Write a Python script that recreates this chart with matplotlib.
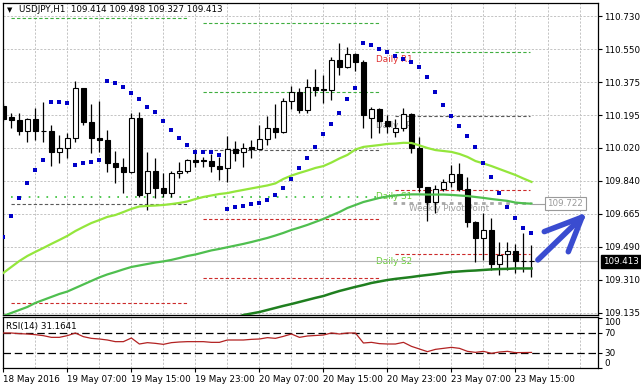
import numpy as np
import matplotlib.pyplot as plt

# USDJPY H1, bars from 18 May 23:00 to 23 May 17:00 (index 0..66)
opens = [110.247, 110.188, 110.174, 110.114, 110.175, 110.114, 110.115, 110.001, 110.020, 110.073,
         110.341, 110.162, 110.073, 110.064, 109.942, 109.921, 109.894, 110.181, 109.778, 109.898,
         109.808, 109.781, 109.885, 109.898, 109.957, 109.955, 109.950, 109.924, 109.912, 110.014,
         109.998, 110.024, 110.016, 110.068, 110.127, 110.105, 110.271, 110.323, 110.225, 110.347,
         110.338, 110.334, 110.494, 110.455, 110.526, 110.481, 110.181, 110.229, 110.168, 110.105,
         110.127, 110.202, 110.023, 109.810, 109.730, 109.799, 109.837, 109.881, 109.799, 109.625,
         109.536, 109.581, 109.397, 109.452, 109.470, 109.416, 109.414]
highs = [110.263, 110.209, 110.209, 110.184, 110.236, 110.270, 110.145, 110.091, 110.103, 110.381,
         110.343, 110.257, 110.274, 110.118, 110.005, 109.966, 110.211, 110.214, 110.001, 109.969,
         109.888, 109.898, 109.948, 109.960, 110.014, 109.974, 109.987, 109.974, 110.086, 110.059,
         110.046, 110.064, 110.145, 110.193, 110.257, 110.288, 110.354, 110.342, 110.390, 110.444,
         110.413, 110.511, 110.583, 110.562, 110.533, 110.494, 110.243, 110.234, 110.198, 110.177,
         110.234, 110.209, 110.079, 109.812, 109.822, 109.853, 109.930, 109.939, 109.864, 109.631,
         109.670, 109.644, 109.518, 109.518, 109.504, 109.566, 109.498]
lows = [110.166, 110.129, 110.091, 110.055, 110.064, 110.055, 109.924, 109.941, 109.966, 110.055,
        110.145, 109.996, 110.001, 109.894, 109.835, 109.778, 109.885, 109.760, 109.688, 109.751,
        109.760, 109.760, 109.862, 109.885, 109.921, 109.917, 109.894, 109.849, 109.840, 109.951,
        109.917, 109.969, 110.014, 110.037, 110.076, 110.100, 110.231, 110.211, 110.211, 110.300,
        110.264, 110.279, 110.413, 110.449, 110.435, 110.127, 110.073, 110.100, 110.100, 110.082,
        110.114, 109.993, 109.786, 109.631, 109.670, 109.792, 109.810, 109.792, 109.599, 109.407,
        109.420, 109.366, 109.339, 109.366, 109.351, 109.357, 109.327]
closes = [110.177, 110.174, 110.114, 110.175, 110.114, 110.113, 110.001, 110.020, 110.073, 110.342,
          110.162, 110.073, 110.064, 109.942, 109.921, 109.894, 110.181, 109.769, 109.898, 109.808,
          109.781, 109.885, 109.898, 109.957, 109.948, 109.950, 109.924, 109.910, 110.014, 109.996,
          110.020, 110.016, 110.068, 110.127, 110.105, 110.271, 110.323, 110.225, 110.347, 110.333,
          110.334, 110.494, 110.455, 110.526, 110.481, 110.198, 110.229, 110.168, 110.139, 110.127,
          110.202, 110.023, 109.810, 109.730, 109.799, 109.840, 109.881, 109.799, 109.625, 109.536,
          109.581, 109.397, 109.446, 109.470, 109.416, 109.414, 109.413]

# parabolic SAR
sar = [109.542, 109.656, 109.751, 109.832, 109.903, 109.954, 110.267, 110.267, 110.261, 109.930,
       109.939, 109.946, 109.957, 110.381, 110.370, 110.347, 110.317, 110.284, 110.243, 110.213,
       110.166, 110.118, 110.076, 110.036, 110.002, 109.999, 109.999, 109.986, 109.692, 109.703,
       109.710, 109.719, 109.724, 109.740, 109.769, 109.806, 109.853, 109.914, 109.969, 110.027,
       110.096, 110.150, 110.211, 110.284, 110.345, 110.585, 110.573, 110.553, 110.537, 110.516,
       110.497, 110.483, 110.455, 110.402, 110.322, 110.252, 110.193, 110.139, 110.086, 110.028,
       109.939, 109.865, 109.779, 109.704, 109.644, 109.590, 109.566]

# moving averages
ma_fast = [109.350, 109.382, 109.414, 109.441, 109.463, 109.484, 109.506, 109.527, 109.549, 109.575,
           109.597, 109.618, 109.634, 109.651, 109.661, 109.677, 109.694, 109.707, 109.710, 109.712,
           109.715, 109.720, 109.726, 109.734, 109.747, 109.758, 109.766, 109.774, 109.779, 109.788,
           109.796, 109.804, 109.812, 109.820, 109.831, 109.855, 109.873, 109.887, 109.900, 109.914,
           109.924, 109.943, 109.965, 109.984, 110.013, 110.027, 110.032, 110.037, 110.043, 110.045,
           110.049, 110.048, 110.035, 110.021, 110.010, 110.005, 110.000, 109.989, 109.973, 109.951,
           109.938, 109.924, 109.908, 109.892, 109.876, 109.857, 109.839]
ma_mid = [109.119, 109.135, 109.151, 109.167, 109.189, 109.205, 109.221, 109.237, 109.250, 109.269,
          109.288, 109.307, 109.326, 109.342, 109.355, 109.369, 109.382, 109.390, 109.398, 109.406,
          109.412, 109.420, 109.430, 109.441, 109.449, 109.460, 109.471, 109.479, 109.488, 109.497,
          109.506, 109.516, 109.527, 109.538, 109.551, 109.565, 109.581, 109.594, 109.608, 109.624,
          109.640, 109.659, 109.677, 109.699, 109.715, 109.731, 109.742, 109.753, 109.761, 109.766,
          109.770, 109.772, 109.772, 109.771, 109.771, 109.771, 109.769, 109.766, 109.763, 109.758,
          109.753, 109.747, 109.742, 109.737, 109.728, 109.724, 109.722]
ma_slow_start = 29
ma_slow = [109.108, 109.124, 109.132, 109.140, 109.151, 109.162, 109.173, 109.183, 109.194, 109.205,
           109.216, 109.226, 109.240, 109.253, 109.264, 109.275, 109.285, 109.296, 109.304, 109.312,
           109.318, 109.323, 109.328, 109.334, 109.339, 109.344, 109.350, 109.355, 109.358, 109.361,
           109.363, 109.366, 109.369, 109.371, 109.372, 109.374, 109.374, 109.374]

rsi = [70, 70, 68.7, 68, 66.7, 64.7, 61.3, 61.3, 64.7, 70, 62.7, 59.3, 58, 56, 52.7, 52.7, 60, 48,
       50.7, 49.3, 47.3, 50.7, 52, 52.7, 52.7, 52.7, 51.3, 51.3, 56, 56, 56, 57.3, 58, 60.7, 59.3,
       63.3, 68, 61.3, 64, 65, 66, 70, 68, 70, 70, 50, 51.3, 48.7, 48, 48, 51.3, 43.3, 38, 32.7,
       37.3, 39.3, 41.3, 39.3, 33.3, 31.3, 33.3, 29.3, 32, 33.3, 30.7, 30.9, 31.16]

# daily pivot levels: (price, day) ; day spans in bar index
day_spans = [(0.9, 23), (25, 47.1), (49, 65.8)]
res_lines = [(110.718, 0), (110.691, 1), (110.320, 1), (110.535, 2)]
pp_lines = [(109.719, 0), (110.010, 1), (110.192, 2)]
sup_lines = [(109.187, 0), (109.638, 1), (109.321, 1), (109.793, 2), (109.449, 2)]
weekly_prev = 109.760
weekly_pp = 109.727

ytick_labels = ['110.730', '110.550', '110.375', '110.195', '110.020',
                '109.840', '109.665', '109.490', '109.310', '109.135']
time_labels = ['18 May 2016', '19 May 07:00', '19 May 15:00', '19 May 23:00', '20 May 07:00',
               '20 May 15:00', '20 May 23:00', '23 May 07:00', '23 May 15:00']
last_price = 109.413

plt.rcParams['font.family'] = 'DejaVu Sans'
fs = 6.3
W, H = 641, 390


def box(x0, y0, x1, y1):
    return [x0 / W, 1 - y1 / H, (x1 - x0) / W, (y1 - y0) / H]


fig = plt.figure(figsize=(6.41, 3.90), dpi=100)
ax = fig.add_axes(box(3, 3, 598, 315))
ar = fig.add_axes(box(3, 317, 598, 368))

x = np.arange(len(closes))
o, h, l, c = map(np.array, (opens, highs, lows, closes))
XMIN, XMAX = -0.04, 74.31
grid_kw = dict(color='#c4c4c4', lw=0.7, ls=(0, (2.2, 1.6)))

# ---- main panel
ax.set_xlim(XMIN, XMAX)
ax.set_ylim(109.124, 110.800)
ax.set_yticks(np.linspace(110.730, 109.135, 10))
ax.set_yticklabels(ytick_labels)
ax.yaxis.tick_right()
ax.tick_params(axis='y', direction='out', length=3, width=0.8, pad=1.5, labelsize=fs)
ax.set_xticks(np.arange(4, 75, 4))
ax.tick_params(axis='x', length=0, labelbottom=False)
ax.grid(True, **grid_kw)
ax.set_axisbelow(True)

for p, d in res_lines:
    ax.hlines(p, *day_spans[d], colors='#3fae3f', lw=0.8, linestyles=(0, (3, 2)), zorder=1.5)
for p, d in pp_lines:
    ax.hlines(p, *day_spans[d], colors='#5a5a5a', lw=0.8, linestyles=(0, (3, 2)), zorder=1.5)
for p, d in sup_lines:
    ax.hlines(p, *day_spans[d], colors='#cc2a2a', lw=0.8, linestyles=(0, (3, 2)), zorder=1.5)
ax.hlines(weekly_prev, 0.9, 48.7, colors='#22bb22', lw=1.1, linestyles=(0, (1.1, 4.7)), zorder=1.5)
ax.hlines(weekly_pp, 48.7, 66, colors='#a8a8a8', lw=2.0, linestyles=(0, (1.3, 1.6)), zorder=1.5)

ax.text(46.6, 110.499, 'Daily R1', color='#e03030', fontsize=fs, va='center', zorder=1.6)
ax.text(46.6, 110.141, 'Daily PP', color='#8a8a8a', fontsize=fs, va='center', zorder=1.6)
ax.text(46.6, 109.759, 'Daily S1', color='#66cc33', fontsize=fs, va='center', zorder=1.6)
ax.text(46.6, 109.414, 'Daily S2', color='#66cc33', fontsize=fs, va='center', zorder=1.6)
ax.text(50.7, 109.694, 'Weekly Pivot Point', color='#a0a0a0', fontsize=fs, va='center', zorder=1.6)

ax.axhline(last_price, color='#b4b4b4', lw=0.8, zorder=2)

# candles
ax.vlines(x, l, h, color='black', lw=0.9, zorder=3)
body_lo = np.minimum(o, c)
body_h = np.maximum(np.abs(c - o), 0.0008)
body_col = np.where(c > o, 'white', 'black')
ax.bar(x, body_h, 0.62, bottom=body_lo, color=body_col, edgecolor='black', linewidth=0.8, zorder=3.5)

ax.plot(x, ma_fast, color='#94e63c', lw=1.6, zorder=4)
ax.plot(x, ma_mid, color='#4fbf4f', lw=1.6, zorder=4)
ax.plot(np.arange(ma_slow_start, ma_slow_start + len(ma_slow)), ma_slow, color='#1f7f1f', lw=1.8, zorder=4)
ax.plot(x, sar, ls='none', marker='s', ms=2.3, mew=0, color='#0000c8', zorder=5)

# value tag of the middle MA
ax.hlines(ma_mid[-1], x[-1], 67.9, colors='#a0a0a0', lw=0.8, zorder=4)
ax.text(68.0, ma_mid[-1], '109.722', color='#9a9a9a', fontsize=fs, va='center', ha='left', zorder=6,
        bbox=dict(boxstyle='square,pad=0.25', fc='white', ec='#9a9a9a', lw=0.8))

# hand drawn arrow
arrow_x = [66.8, 72.3]
arrow_y = [109.420, 109.649]
head_l = ([67.6, 72.3], [109.572, 109.649])
head_r = ([70.6, 72.3], [109.464, 109.649])
for xs, ys in [(arrow_x, arrow_y), head_l, head_r]:
    ax.plot(xs, ys, color='#3a4cd0', lw=4, solid_capstyle='round', zorder=6)

ax.text(1.008, last_price, '109.413', transform=ax.get_yaxis_transform(), color='white',
        fontsize=fs, va='center', ha='left', clip_on=False, zorder=10,
        bbox=dict(boxstyle='square,pad=0.25', fc='black', ec='black'))

# ---- RSI panel
ar.set_xlim(XMIN, XMAX)
ar.set_ylim(0, 102)
ar.plot(x, rsi, color='#b22222', lw=0.9, zorder=3)
for lvl in (70, 30):
    ar.axhline(lvl, color='black', lw=0.9, ls=(0, (6, 3)), zorder=2)
ar.set_xticks(np.arange(4, 75, 4), minor=True)
ar.set_xticks(np.arange(0, 65, 8))
ar.set_xticklabels(time_labels, ha='left')
ar.tick_params(axis='x', which='major', direction='out', length=3, width=0.8, pad=2, labelsize=fs)
ar.tick_params(axis='x', which='minor', length=0)
ar.grid(True, which='both', axis='x', **grid_kw)
ar.set_axisbelow(True)
ar.yaxis.tick_right()
ar.set_yticks([100, 70, 30, 0])
ar.set_yticklabels(['100', '70', '30', '0'])
ar.tick_params(axis='y', direction='out', length=3, width=0.8, pad=1.5, labelsize=fs)
for t, va in zip(ar.yaxis.get_major_ticks(), ['top', 'center', 'center', 'bottom']):
    t.label2.set_va(va)

for a in (ax, ar):
    for s in a.spines.values():
        s.set_linewidth(0.9)
        s.set_color('black')

fig.text(7 / W, 1 - 10 / H, '▼', fontsize=5, va='center')
fig.text(19 / W, 1 - 10 / H, 'USDJPY,H1  109.414 109.498 109.327 109.413', fontsize=fs, va='center')
fig.text(6 / W, 1 - 327 / H, 'RSI(14) 31.1641', fontsize=fs, va='center')

fig.savefig('out.png', dpi=100)
